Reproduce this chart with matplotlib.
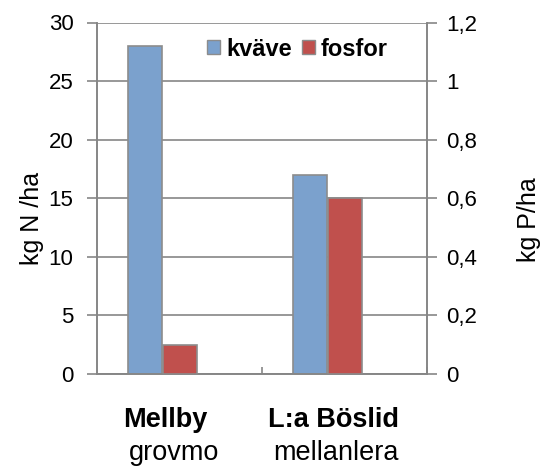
import matplotlib
matplotlib.use("Agg")
import matplotlib.pyplot as plt
from matplotlib.ticker import FixedLocator, FuncFormatter
from matplotlib.patches import Patch
import matplotlib.transforms as mtransforms

plt.rcParams['font.family'] = ['Liberation Sans', 'DejaVu Sans']

sites = ["Mellby", "L:a Böslid"]
soils = ["grovmo", "mellanlera"]
kvave = [28, 17]        # kg N/ha (left axis)
fosfor = [0.1, 0.6]     # kg P/ha (right axis)
left_ticks = [0, 5, 10, 15, 20, 25, 30]
right_ticks = [0, 0.2, 0.4, 0.6, 0.8, 1.0, 1.2]

blue = '#7BA1CD'
red = '#C0504D'
edge = '#8C8C8C'
grid = '#868686'

W, H = 547, 467
fig = plt.figure(figsize=(W/100, H/100), dpi=100)
L, R, T, B = 97, 427, 22.5, 374
ax = fig.add_axes([L/W, 1-B/H, (R-L)/W, (B-T)/H])
ax2 = ax.twinx()

bw = 0.205
xb = [i + 0.291 for i in range(len(sites))]
xr = [i + 0.503 for i in range(len(sites))]
ax.bar(xb, kvave, width=bw, color=blue, edgecolor=edge, linewidth=1.2, zorder=3)
ax2.bar(xr, fosfor, width=bw, color=red, edgecolor=edge, linewidth=1.2, zorder=3)

ax.set_xlim(0, 2)
ax.set_ylim(0, 30)
ax2.set_ylim(0, 1.2)
ax.yaxis.set_major_locator(FixedLocator(left_ticks))
ax2.yaxis.set_major_locator(FixedLocator(right_ticks))
ax2.yaxis.set_major_formatter(FuncFormatter(lambda v, p: ('%g' % round(v, 1)).replace('.', ',')))

ax.set_axisbelow(True)
ax.grid(axis='y', color=grid, linewidth=1.2)
ax.set_xticks([1, 2])
ax.set_xticklabels([])
ax.tick_params(axis='x', direction='in', length=5, color=grid, width=1.2)
ax.tick_params(axis='y', length=7, color=grid, width=1.2, labelsize=16, pad=10)
ax2.tick_params(axis='y', length=7, color=grid, width=1.2, labelsize=16, pad=7)
for a in (ax, ax2):
    a.spines['top'].set_visible(False)
    for s in ('left', 'right', 'bottom'):
        a.spines[s].set_color(grid)
        a.spines[s].set_linewidth(1.2)

fig.text(32/W, 1-218/H, "kg N /ha", rotation=90, ha='center', va='center', fontsize=18)
fig.text(529/W, 1-220/H, "kg P/ha", rotation=90, ha='center', va='center', fontsize=18)

trans = mtransforms.blended_transform_factory(ax.transData, fig.transFigure)
site_x = [0.417, 1.433]
soil_x = [0.467, 1.448]
for i in range(len(sites)):
    ax.text(site_x[i], 1-427/H, sites[i], transform=trans, ha='center', va='baseline',
            fontsize=19.5, fontweight='bold')
    ax.text(soil_x[i], 1-460/H, soils[i], transform=trans, ha='center', va='baseline',
            fontsize=19.5)

handles = [Patch(facecolor=blue, edgecolor=edge), Patch(facecolor=red, edgecolor=edge)]
leg = ax.legend(handles, ["kväve", "fosfor"], loc='center left', bbox_to_anchor=(207/W, 1-49/H),
                bbox_transform=fig.transFigure, ncol=2, frameon=False,
                prop={'weight': 'bold', 'size': 17}, handlelength=0.55, handleheight=0.55,
                handletextpad=0.25, columnspacing=0.45, borderpad=0, borderaxespad=0)

fig.savefig("out.png", dpi=100)
